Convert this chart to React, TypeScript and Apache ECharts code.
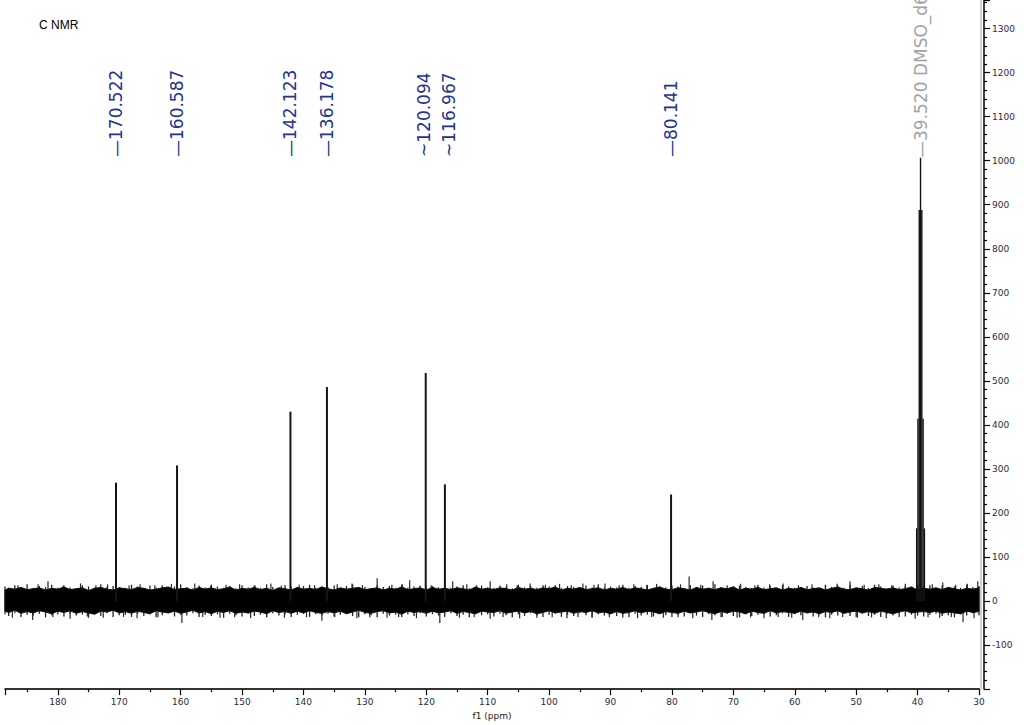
import React, { useEffect, useRef } from 'react';
import * as echarts from 'echarts';

const TITLE = 'C NMR';
const X_NAME = 'f1 (ppm)';

const X_TICKS = [180, 170, 160, 150, 140, 130, 120, 110, 100, 90, 80, 70, 60, 50, 40, 30];
const Y_TICKS = [-100, 0, 100, 200, 300, 400, 500, 600, 700, 800, 900, 1000, 1100, 1200, 1300];

const PEAK_PPM = [170.522, 160.587, 142.123, 136.178, 120.094, 116.967, 80.141];
const PEAK_HEIGHT = [269, 308, 430, 486, 518, 265, 242];
const PEAK_LABELS = ['170.522', '160.587', '142.123', '136.178', '120.094', '116.967', '80.141'];
const LABEL_PPM = [170.522, 160.587, 142.123, 136.178, 120.3, 116.3, 80.141];
const LABEL_LEAD = ['—', '—', '—', '—', '~', '~', '—'];

const SOLVENT_PPM = [38.89, 39.1, 39.31, 39.52, 39.73, 39.94, 40.15];
const SOLVENT_HEIGHT = [165, 414, 888, 1007, 888, 414, 165];
const SOLVENT_LABEL = '39.520 DMSO_d6';
const SOLVENT_LABEL_PPM = 39.52;

const NOISE_PPM = [188.6, 188, 187, 186, 185, 184, 183, 182, 181, 180,
  179, 178, 177, 176, 175, 174, 173, 172, 171, 170,
  169, 168, 167, 166, 165, 164, 163, 162, 161, 160,
  159, 158, 157, 156, 155, 154, 153, 152, 151, 150,
  149, 148, 147, 146, 145, 144, 143, 142, 141, 140,
  139, 138, 137, 136, 135, 134, 133, 132, 131, 130,
  129, 128, 127, 126, 125, 124, 123, 122, 121, 120,
  119, 118, 117, 116, 115, 114, 113, 112, 111, 110,
  109, 108, 107, 106, 105, 104, 103, 102, 101, 100,
  99, 98, 97, 96, 95, 94, 93, 92, 91, 90,
  89, 88, 87, 86, 85, 84, 83, 82, 81, 80,
  79, 78, 77, 76, 75, 74, 73, 72, 71, 70,
  69, 68, 67, 66, 65, 64, 63, 62, 61, 60,
  59, 58, 57, 56, 55, 54, 53, 52, 51, 50,
  49, 48, 47, 46, 45, 44, 43, 42, 41, 40,
  39, 38, 37, 36, 35, 34, 33, 32, 31, 30];
const NOISE_TOP = [25, 29, 27, 31, 26, 28, 30, 25, 29, 27,
  32, 26, 28, 30, 24, 29, 31, 27, 25, 30,
  28, 26, 31, 29, 25, 27, 30, 32, 26, 28,
  29, 25, 31, 27, 30, 26, 28, 32, 25, 29,
  27, 31, 26, 29, 24, 30, 28, 25, 31, 27,
  29, 26, 32, 28, 25, 30, 27, 29, 31, 26,
  28, 30, 25, 29, 27, 32, 26, 28, 30, 25,
  31, 27, 29, 26, 30, 28, 25, 32, 27, 29,
  26, 30, 28, 25, 31, 27, 29, 26, 30, 28,
  32, 25, 29, 27, 31, 26, 28, 30, 25, 29,
  27, 31, 26, 30, 28, 25, 29, 32, 27, 26,
  30, 28, 25, 31, 27, 29, 26, 30, 28, 32,
  25, 29, 27, 31, 26, 28, 30, 25, 29, 27,
  31, 26, 28, 30, 25, 29, 32, 27, 26, 30,
  28, 25, 31, 29, 27, 30, 26, 28, 32, 25,
  29, 27, 30, 26, 31, 28, 25, 29, 27, 30];
const NOISE_BOTTOM = [-23, -26, -21, -28, -24, -27, -22, -25, -29, -23,
  -26, -22, -28, -24, -27, -30, -23, -25, -21, -27,
  -24, -28, -23, -26, -29, -22, -25, -27, -23, -28,
  -25, -21, -27, -24, -29, -23, -26, -22, -28, -25,
  -27, -23, -25, -29, -22, -26, -24, -28, -23, -27,
  -22, -26, -28, -24, -27, -23, -29, -25, -21, -26,
  -28, -24, -22, -27, -25, -30, -23, -26, -24, -28,
  -23, -27, -25, -22, -28, -24, -26, -29, -23, -25,
  -26, -22, -28, -25, -23, -27, -24, -29, -26, -22,
  -27, -25, -23, -28, -24, -26, -22, -27, -25, -29,
  -24, -28, -26, -22, -27, -23, -25, -29, -24, -26,
  -28, -23, -27, -25, -22, -26, -29, -24, -27, -23,
  -25, -29, -23, -26, -28, -22, -27, -24, -26, -28,
  -23, -27, -25, -29, -24, -26, -22, -28, -25, -23,
  -27, -24, -28, -23, -26, -29, -25, -22, -27, -25,
  -24, -26, -23, -28, -25, -27, -29, -23, -26, -24];
const HAIR_TOP = [33, 30, 36, 31, 38, 29, 34, 32, 37, 30,
  35, 31, 29, 36, 33, 30, 38, 32, 34, 31,
  30, 37, 33, 29, 35, 31, 36, 30, 33, 38,
  32, 29, 35, 31, 37, 33, 30, 34, 29, 36,
  31, 35, 30, 38, 32, 29, 36, 33, 31, 34,
  37, 30, 33, 31, 35, 29, 34, 38, 30, 32,
  29, 36, 32, 34, 30, 37, 31, 33, 35, 30,
  34, 31, 38, 30, 33, 36, 29, 32, 35, 31,
  30, 35, 32, 29, 37, 31, 34, 30, 36, 33,
  36, 30, 34, 32, 29, 35, 31, 38, 30, 33,
  31, 37, 30, 34, 32, 36, 29, 33, 31, 35,
  33, 29, 36, 31, 35, 30, 38, 32, 29, 34,
  35, 32, 30, 37, 31, 34, 29, 36, 33, 30,
  30, 34, 31, 29, 36, 32, 35, 30, 37, 31,
  34, 30, 37, 33, 29, 35, 31, 34, 30, 36,
  32, 36, 29, 35, 31, 33, 30, 37, 32, 34];
const HAIR_BOTTOM = [-30, -34, -28, -36, -31, -33, -29, -37, -32, -30,
  -35, -29, -33, -31, -38, -30, -34, -28, -36, -32,
  -31, -36, -29, -34, -30, -37, -32, -28, -35, -31,
  -33, -28, -36, -31, -34, -30, -38, -29, -32, -35,
  -29, -34, -31, -37, -28, -33, -30, -36, -31, -29,
  -36, -30, -33, -29, -35, -31, -28, -34, -37, -30,
  -32, -37, -29, -33, -31, -36, -30, -34, -28, -35,
  -30, -33, -36, -28, -34, -31, -37, -29, -32, -30,
  -35, -29, -32, -37, -30, -34, -28, -33, -36, -31,
  -29, -36, -31, -34, -28, -32, -37, -30, -33, -29,
  -34, -30, -37, -29, -33, -31, -35, -28, -32, -36,
  -31, -35, -28, -33, -36, -30, -32, -37, -29, -34,
  -37, -30, -34, -31, -29, -35, -32, -28, -36, -30,
  -32, -28, -35, -30, -37, -31, -33, -29, -34, -36,
  -29, -34, -31, -36, -30, -33, -28, -35, -31, -33,
  -35, -31, -29, -34, -32, -37, -30, -33, -28, -32];

const SPIKES_UP = [[186.5, 36], [183.2, 38], [181.6, 45], [179.1, 35], [176.3, 40], [173.8, 36], [171.9, 38], [168.4, 35],
  [166.6, 38], [164.2, 36], [161.5, 39], [157.7, 40], [155.1, 35], [152.6, 37], [150.4, 38], [147.9, 36], [145.3, 40],
  [143.6, 35], [140.7, 37], [138.2, 36], [134.5, 38], [132.1, 40], [130.4, 36], [128.0, 52], [125.6, 37], [123.9, 38],
  [122.7, 47], [119.2, 36], [115.7, 45], [113.4, 38], [111.8, 36], [109.6, 45], [106.9, 38], [105.2, 36], [103.1, 40],
  [100.6, 37], [98.3, 39], [96.4, 36], [94.5, 40], [92.7, 37], [90.9, 40], [88.6, 36], [86.2, 38], [84.1, 37], [82.5, 39],
  [78.6, 38], [77.2, 56], [75.3, 37], [73.3, 45], [71.0, 36], [68.8, 39], [66.5, 36], [64.1, 38], [61.9, 40], [59.4, 36],
  [57.2, 38], [55.0, 37], [53.1, 39], [51.0, 45], [48.7, 37], [46.3, 38], [44.2, 36], [42.0, 39], [37.6, 38], [35.9, 42],
  [33.8, 37], [31.9, 39], [30.2, 45]];
const SPIKES_DOWN = [[187.4, -38], [184.1, -43], [180.8, -36], [178.0, -40], [175.2, -35], [172.6, -38], [169.3, -36],
  [167.1, -39], [163.7, -37], [159.8, -50], [156.4, -36], [153.6, -38], [151.2, -37], [148.6, -39], [146.0, -36],
  [143.1, -38], [139.5, -37], [137.0, -45], [134.9, -36], [131.3, -39], [129.2, -37], [126.4, -38], [124.5, -36],
  [121.6, -39], [117.8, -50], [114.6, -38], [112.2, -37], [109.6, -40], [107.5, -36], [104.8, -39], [102.0, -38],
  [99.5, -37], [97.1, -39], [95.3, -36], [93.0, -38], [90.2, -37], [88.0, -38], [85.6, -39], [83.3, -36], [81.4, -38],
  [79.0, -37], [76.6, -39], [73.5, -43], [71.8, -36], [69.4, -38], [67.2, -37], [65.0, -39], [62.7, -36], [60.5, -38],
  [58.7, -43], [56.1, -37], [54.3, -39], [52.2, -36], [49.8, -38], [47.5, -37], [45.1, -39], [43.0, -36], [40.4, -40],
  [38.3, -37], [36.4, -38], [34.5, -36], [32.6, -48], [30.8, -39]];

const LABEL_BOTTOM_Y = 157;
const LABEL_COLOR = '#24338c';
const SOLVENT_COLOR = '#a3a3a3';
const LABEL_FONT = 'DejaVu Sans';

function App() {
  const ref = useRef<HTMLDivElement>(null);
  useEffect(() => {
    if (!ref.current) return;
    const chart = echarts.init(ref.current, null, { renderer: 'svg' });

    const stickItem = (stroke: string, width: number) => (params: any, api: any) => {
      const a = api.coord([api.value(0), 0]);
      const b = api.coord([api.value(0), api.value(1)]);
      return {
        type: 'line',
        shape: { x1: a[0], y1: a[1], x2: b[0], y2: b[1] },
        style: { stroke, lineWidth: width },
      };
    };

    const hairData = NOISE_PPM.map((p, i) => [p, HAIR_TOP[i], HAIR_BOTTOM[i]]);

    const option: any = {
      animation: false,
      backgroundColor: '#fff',
      title: {
        text: TITLE,
        left: 39,
        top: 19,
        padding: 0,
        textStyle: { fontSize: 12, fontWeight: 'normal', fontFamily: 'Liberation Sans', color: '#000' },
      },
      grid: { left: 5, right: 45, top: 0, bottom: 33 },
      xAxis: {
        type: 'value',
        inverse: true,
        min: 30,
        max: 188.6,
        interval: 10,
        name: X_NAME,
        nameLocation: 'middle',
        nameGap: 19,
        nameTextStyle: { fontSize: 9, color: '#222', fontFamily: LABEL_FONT },
        axisLine: { show: true, onZero: false, lineStyle: { color: '#000', width: 1.5 } },
        axisTick: { show: true, length: 6, lineStyle: { color: '#000', width: 1.2 } },
        minorTick: { show: true, splitNumber: 2, length: 3, lineStyle: { color: '#000', width: 1.2 } },
        splitLine: { show: false },
        axisLabel: {
          margin: 8,
          fontSize: 9,
          color: '#2a2a40',
          fontFamily: LABEL_FONT,
          showMaxLabel: false,
          formatter: (v: number) => (X_TICKS.includes(Math.round(v)) && Math.abs(v - Math.round(v)) < 1e-6 ? String(Math.round(v)) : ''),
        },
      },
      yAxis: {
        type: 'value',
        position: 'right',
        offset: 5,
        min: -200,
        max: 1365,
        interval: 100,
        axisLine: { show: true, onZero: false, lineStyle: { color: '#000', width: 1.5 } },
        axisTick: { show: true, length: 6, lineStyle: { color: '#000', width: 1.2 } },
        minorTick: { show: true, splitNumber: 5, length: 3, lineStyle: { color: '#000', width: 1.2 } },
        splitLine: { show: false },
        axisLabel: {
          margin: 8,
          fontSize: 9,
          color: '#2a2a40',
          fontFamily: LABEL_FONT,
          showMaxLabel: false,
          formatter: (v: number) => (Y_TICKS.includes(Math.round(v)) && Math.abs(v - Math.round(v)) < 1e-6 ? String(Math.round(v)) : ''),
        },
      },
      graphic: [
        { type: 'line', silent: true, shape: { x1: 981, y1: 0, x2: 981, y2: 689 }, style: { stroke: '#cfcfcf', lineWidth: 2 } },
        { type: 'line', silent: true, shape: { x1: 5, y1: 689, x2: 981, y2: 689 }, style: { stroke: '#cfcfcf', lineWidth: 2 } },
      ],
      series: [
        {
          type: 'custom',
          silent: true,
          data: hairData,
          renderItem: (params: any, api: any) => {
            const a = api.coord([api.value(0), api.value(2)]);
            const b = api.coord([api.value(0), api.value(1)]);
            return {
              type: 'line',
              shape: { x1: a[0], y1: a[1], x2: b[0], y2: b[1] },
              style: { stroke: '#222', lineWidth: 1.3 },
            };
          },
        },
        {
          type: 'custom',
          silent: true,
          data: SPIKES_UP.concat(SPIKES_DOWN),
          renderItem: stickItem('#2a2a2a', 1.2),
        },
        {
          type: 'custom',
          silent: true,
          data: [[NOISE_PPM[0], 0]],
          renderItem: (params: any, api: any) => {
            const n = Math.min(NOISE_PPM.length, NOISE_TOP.length, NOISE_BOTTOM.length);
            const pts: number[][] = [];
            for (let i = 0; i < n; i++) pts.push(api.coord([NOISE_PPM[i], NOISE_TOP[i]]));
            for (let i = n - 1; i >= 0; i--) pts.push(api.coord([NOISE_PPM[i], NOISE_BOTTOM[i]]));
            return { type: 'polygon', shape: { points: pts }, style: { fill: '#000', stroke: '#111', lineWidth: 1 } };
          },
        },
        {
          type: 'custom',
          silent: true,
          data: SOLVENT_PPM.map((p, i) => [p, SOLVENT_HEIGHT[i]]),
          renderItem: stickItem('#111', 1.4),
        },
        {
          type: 'custom',
          silent: true,
          data: PEAK_PPM.map((p, i) => [p, PEAK_HEIGHT[i], i]),
          renderItem: (params: any, api: any) => {
            const i = api.value(2);
            const a = api.coord([api.value(0), 0]);
            const b = api.coord([api.value(0), api.value(1)]);
            const lx = api.coord([LABEL_PPM[i], 0])[0];
            return {
              type: 'group',
              children: [
                { type: 'line', shape: { x1: a[0], y1: a[1], x2: b[0], y2: b[1] }, style: { stroke: '#151515', lineWidth: 2 } },
                {
                  type: 'text',
                  x: lx,
                  y: LABEL_BOTTOM_Y,
                  rotation: Math.PI / 2,
                  style: {
                    text: LABEL_LEAD[i] + PEAK_LABELS[i],
                    fill: LABEL_COLOR,
                    fontSize: 17,
                    fontFamily: LABEL_FONT,
                    align: 'left',
                    verticalAlign: 'middle',
                  },
                },
              ],
            };
          },
        },
        {
          type: 'custom',
          silent: true,
          data: [[SOLVENT_LABEL_PPM, 0]],
          renderItem: (params: any, api: any) => {
            const x = api.coord([api.value(0), 0])[0];
            return {
              type: 'text',
              x,
              y: LABEL_BOTTOM_Y + 1,
              rotation: Math.PI / 2,
              style: {
                text: '—' + SOLVENT_LABEL,
                fill: SOLVENT_COLOR,
                fontSize: 17,
                fontFamily: LABEL_FONT,
                align: 'left',
                verticalAlign: 'middle',
              },
            };
          },
        },
      ],
    };
    chart.setOption(option);
    return () => chart.dispose();
  }, []);
  return (
    <div
      ref={ref}
      style={{ position: 'fixed', left: 0, top: 0, width: 1024, height: 725, background: '#fff' }}
    />
  );
}

export default App;
